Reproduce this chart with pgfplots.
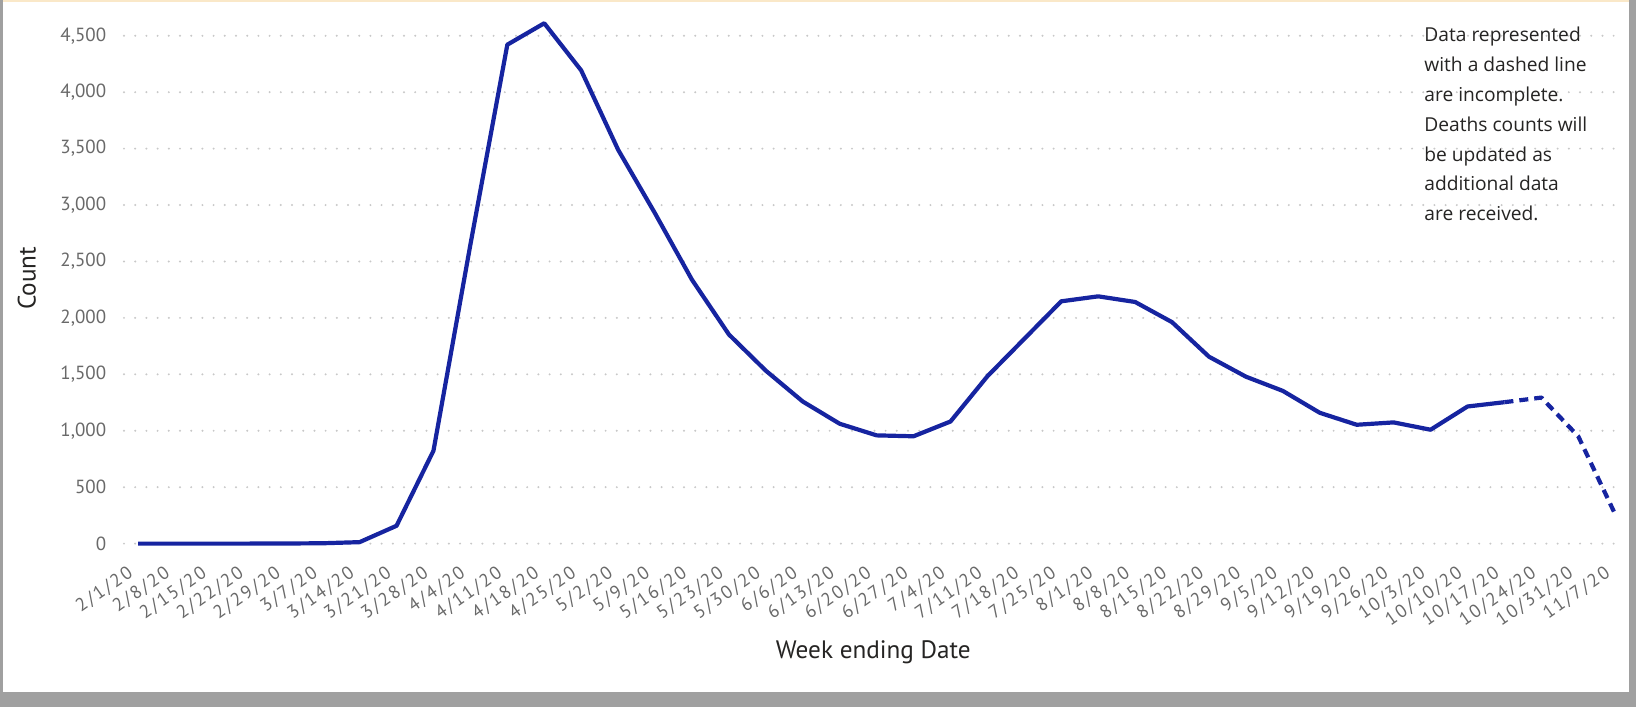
\documentclass[border=0pt]{standalone}
\usepackage{pgfplots}
\pgfplotsset{compat=1.18}
\usepackage{fontspec}
\setmainfont{Open Sans}
\newfontfamily\dinfont{PT Sans}
\newfontfamily\dinwide{PT Sans}[LetterSpace=12]
\definecolor{linecol}{RGB}{22,36,160}
\definecolor{tickgray}{RGB}{105,105,105}
\definecolor{textdark}{RGB}{37,36,35}
\definecolor{gridgray}{RGB}{200,200,200}
\definecolor{framegray}{RGB}{160,160,160}
\definecolor{topbeige}{RGB}{250,232,200}
\pgfplotstableread{
x y
0 0
1 0
2 0
3 0
4 1
5 3
6 13
7 158
8 823
9 2650
10 4421
11 4611
12 4193
13 3490
14 2926
15 2338
16 1853
17 1532
18 1259
19 1062
20 959
21 951
22 1082
23 1483
24 1815
25 2147
26 2191
27 2141
28 1962
29 1656
30 1479
31 1353
32 1159
33 1053
34 1074
35 1009
36 1215
37 1253
}\solidtab
\pgfplotstableread{
x y
37 1253
38 1294
39 950
40 259
}\dashtab
\begin{document}
\begin{tikzpicture}
\path[use as bounding box] (0,0) rectangle (818pt,353.5pt);
\fill[white] (0,0) rectangle (818pt,353.5pt);
\fill[framegray] (0,0) rectangle (1.5pt,353.5pt);
\fill[framegray] (814.5pt,0) rectangle (818pt,353.5pt);
\fill[framegray] (0,0) rectangle (818pt,7.5pt);
\fill[topbeige] (1.5pt,352.6pt) rectangle (814.5pt,353.5pt);
\begin{axis}[
  at={(62pt,81.7pt)}, anchor=south west,
  scale only axis,
  width=749.3pt, height=265.2pt,
  xmin=-0.38, xmax=40.2,
  ymin=0, ymax=4700,
  axis line style={draw=none},
  tick style={draw=none},
  major tick length=0pt,
  ymajorgrids,
  grid style={gridgray, line width=1.1pt, line cap=round, dash pattern=on 0pt off 5.6pt},
  ytick={0,500,...,4500},
  xtick={0,...,40},
  xticklabels={2/1/20,2/8/20,2/15/20,2/22/20,2/29/20,3/7/20,3/14/20,3/21/20,3/28/20,4/4/20,4/11/20,4/18/20,4/25/20,5/2/20,5/9/20,5/16/20,5/23/20,5/30/20,6/6/20,6/13/20,6/20/20,6/27/20,7/4/20,7/11/20,7/18/20,7/25/20,8/1/20,8/8/20,8/15/20,8/22/20,8/29/20,9/5/20,9/12/20,9/19/20,9/26/20,10/3/20,10/10/20,10/17/20,10/24/20,10/31/20,11/7/20},
  /pgf/number format/assume math mode=true,
  /pgf/number format/1000 sep={,},
  ticklabel style={font=\dinfont\fontsize{9.5}{11}\selectfont, text=tickgray},
  yticklabel style={xshift=-5.4pt},
  xticklabel style={font=\dinwide\fontsize{9.2}{11}\selectfont, rotate=35, anchor=north east, yshift=-2pt, xshift=-7.5pt},
  xlabel={Week ending Date},
  ylabel={Count},
  label style={font=\dinfont\fontsize{12.6}{14}\selectfont, text=textdark},
  xlabel style={at={(axis description cs:0.5,-0.205)}, anchor=center},
  ylabel style={at={(axis description cs:-0.0648,0.5)}, anchor=center},
  clip=false,
]
\addplot[linecol, line width=2.1pt, line join=round] table[x=x,y=y] {\solidtab};
\addplot[linecol, line width=2.1pt, line join=round, dash pattern=on 4.5pt off 3pt] table[x=x,y=y] {\dashtab};
\end{axis}
\node[anchor=north west, align=left, inner sep=0pt, text=textdark,
  font=\fontsize{9.6}{14.9}\selectfont] at (712pt,340pt)
  {Data represented\\with a dashed line\\are incomplete.\\Deaths counts will\\be updated as\\additional data\\are received.};
\end{tikzpicture}
\end{document}
